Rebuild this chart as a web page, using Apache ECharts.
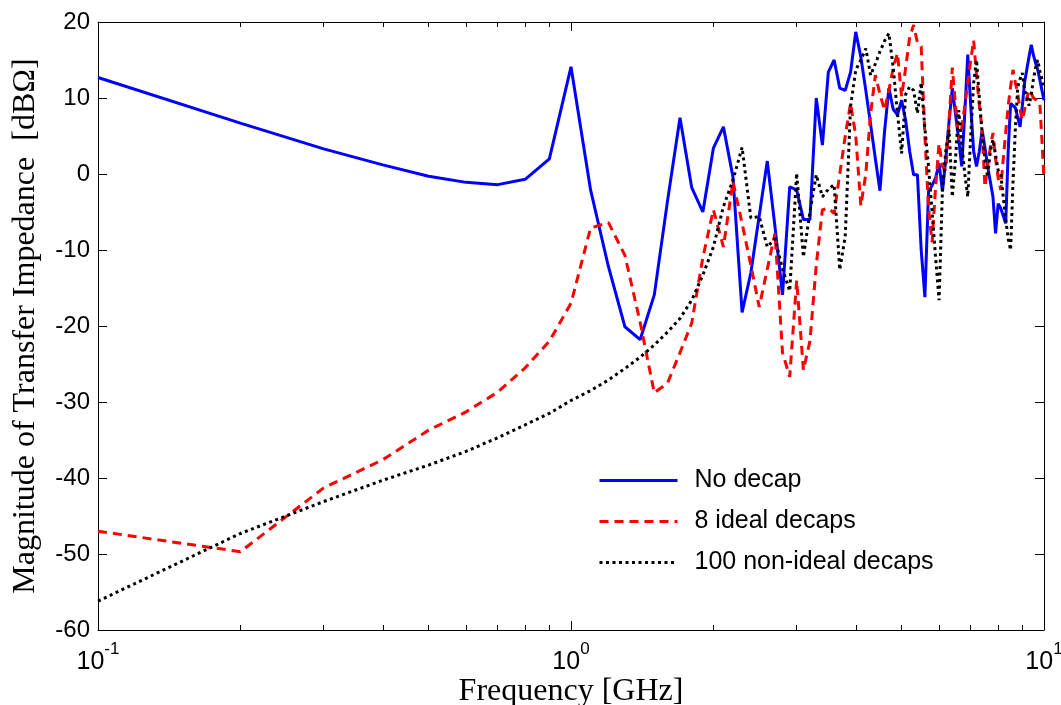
<!DOCTYPE html>
<html>
<head>
<meta charset="utf-8">
<script src="https://cdn.jsdelivr.net/npm/echarts@6/dist/echarts.min.js"></script>
<style>
  html, body { margin: 0; padding: 0; background: #ffffff; }
  #chart { width: 1061px; height: 705px; }
</style>
</head>
<body>
<div id="chart"></div>
<script>
// Frequency sweep points [GHz]
const freqGHz = [
  0.1, 0.2, 0.3, 0.4, 0.5, 0.6, 0.7, 0.8, 0.9, 1.0,
  1.1, 1.2, 1.3, 1.4, 1.5, 1.6, 1.7, 1.8, 1.9, 2.0,
  2.1, 2.2, 2.3, 2.4, 2.5, 2.6, 2.7, 2.8, 2.9, 3.0,
  3.1, 3.2, 3.3, 3.4, 3.5, 3.6, 3.7, 3.8, 3.9, 4.0,
  4.1, 4.2, 4.3, 4.4, 4.5, 4.6, 4.7, 4.8, 4.9, 5.0,
  5.1, 5.2, 5.3, 5.4, 5.5, 5.6, 5.7, 5.8, 5.9, 6.0,
  6.1, 6.2, 6.3, 6.4, 6.5, 6.6, 6.7, 6.8, 6.9, 7.0,
  7.1, 7.2, 7.3, 7.4, 7.5, 7.6, 7.7, 7.8, 7.9, 8.0,
  8.1, 8.2, 8.3, 8.4, 8.5, 8.6, 8.7, 8.8, 8.9, 9.0,
  9.1, 9.2, 9.3, 9.4, 9.5, 9.6, 9.7, 9.8, 9.9, 10.0
];

// Transfer impedance magnitude [dBOhm]
const noDecap = [
  12.7, 6.7, 3.3, 1.2, -0.3, -1.1, -1.4, -0.7, 2.0, 14.1,
  -2.1, -12.2, -20.1, -21.8, -15.9, -3.5, 7.4, -1.8, -5.0, 3.4,
  6.2, -0.4, -18.2, -13.0, -5.5, 1.7, -7.0, -15.9, -1.7, -2.1,
  -6.0, -6.0, 10.0, 3.8, 13.4, 15.0, 11.3, 11.0, 13.4, 18.7,
  15.4, 11.0, 6.5, 2.0, -2.2, 5.5, 11.3, 8.5, 7.8, 9.7,
  7.0, 3.0, -0.1, -0.1, -10.0, -16.2, -2.3, -1.5, -0.5, 1.4,
  -2.3, 2.0, 7.0, 11.3, 7.9, 4.6, 1.0, 8.0, 15.7, 9.0,
  3.0, 1.0, 3.0, 5.8, 3.5, 1.0, -1.0, -3.0, -7.8, -3.9,
  -4.5, -5.5, -6.5, 3.0, 9.3, 9.0, 8.7, 7.4, 6.2, 9.0,
  12.1, 13.8, 15.5, 17.0, 15.6, 14.6, 13.7, 12.4, 11.0, 9.7
];

const idealDecaps8 = [
  -47.0, -49.7, -41.3, -37.6, -33.7, -31.3, -28.7, -25.5, -22.0, -17.0,
  -7.1, -6.4, -10.7, -19.5, -28.8, -27.5, -23.5, -19.6, -11.0, -4.7,
  -9.6, -1.0, -6.5, -12.0, -17.5, -12.5, -7.8, -23.5, -26.7, -14.0,
  -25.8, -22.0, -12.0, -4.7, -4.5, -5.2, 0.0, 5.0, 9.3, 5.0,
  -4.2, 0.0, 8.0, 13.0, 10.5, 8.4, 11.0, 14.0, 15.9, 10.2,
  14.0, 18.0, 19.6, 17.3, 16.8, 5.0, -4.5, -9.0, -1.7, 4.0,
  1.0, 0.5, 7.0, 14.0, 9.0, 4.5, 6.0, 9.0, 12.0, 15.0,
  17.6, 13.0, 9.0, 5.8, -1.7, 1.0, 3.5, 5.4, 2.0, -0.5,
  -2.1, 2.0, 5.5, 9.0, 11.5, 13.7, 12.0, 10.5, 8.5, 7.1,
  8.5, 10.0, 11.0, 10.6, 10.0, 9.8, 9.5, 9.3, 4.5, -0.8
];

const nonIdealDecaps100 = [
  -56.2, -47.3, -43.1, -40.3, -38.3, -36.5, -34.7, -33.0, -31.5, -29.8,
  -28.5, -27.1, -25.6, -24.1, -22.5, -20.8, -19.0, -16.6, -13.3, -9.6,
  -4.3, -0.8, 3.5, -5.8, -5.6, -9.6, -8.5, -12.5, -15.4, 0.1,
  -10.9, -5.0, -0.1, -3.0, -2.0, -1.4, -12.6, -8.2, 8.9, 13.7,
  15.0, 16.5, 13.0, 14.5, 16.1, 17.5, 18.5, 14.0, 8.0, 2.7,
  10.5, 11.5, 11.0, 8.0, 12.0, 6.0, 1.0, -5.0, -11.0, -16.6,
  -2.0, 3.0, 5.8, -3.0, 2.0, 8.4, 4.0, 0.0, -3.0, 5.0,
  12.0, 15.0, 10.0, 5.4, 2.0, -0.4, 3.0, 4.5, 2.5, 0.5,
  0.0, -3.0, -6.0, -8.5, -10.0, -1.0, 6.0, 11.5, 12.5, 13.3,
  11.0, 10.2, 9.0, 10.5, 12.5, 14.0, 15.0, 13.5, 12.5, 11.5
];

const seriesNames = ['No decap', '8 ideal decaps', '100 non-ideal decaps'];

// Tick positions on the frequency axis
const majorFreqTicks = [0.1, 1, 10];
const minorFreqTicks = [0.2, 0.3, 0.4, 0.5, 0.6, 0.7, 0.8, 0.9,
                        2, 3, 4, 5, 6, 7, 8, 9];

const pairs = (vals) => freqGHz.map((f, i) => [f, vals[i]]);

const sansFont = '"Liberation Sans", Arial, Helvetica, sans-serif';
const serifFont = '"Liberation Serif", "Times New Roman", serif';

function freqAxis(position, ticks, tickLen, showLabel, showLine) {
  return {
    type: 'log',
    logBase: 10,
    min: 0.1,
    max: 10,
    position: position,
    axisLine: { show: showLine, onZero: false, lineStyle: { color: '#000', width: 1 } },
    axisTick: {
      show: true,
      inside: true,
      length: tickLen,
      customValues: ticks,
      lineStyle: { color: '#000', width: 1 }
    },
    axisLabel: showLabel ? {
      show: true,
      customValues: majorFreqTicks,
      margin: 8,
      formatter: function (v) {
        const exp = Math.round(Math.log10(v));
        return '{b|10}{e|' + exp + '}';
      },
      rich: {
        b: { fontFamily: sansFont, fontSize: 25, color: '#000', padding: [12, 0, 0, 0] },
        e: { fontFamily: sansFont, fontSize: 17, color: '#000', padding: [0, 0, 14, 0] }
      }
    } : { show: false },
    splitLine: { show: false },
    minorTick: { show: false },
    minorSplitLine: { show: false }
  };
}

function magAxis(position, showLabel) {
  return {
    type: 'value',
    min: -60,
    max: 20,
    interval: 10,
    position: position,
    axisLine: { show: true, onZero: false, lineStyle: { color: '#000', width: 1 } },
    axisTick: { show: true, inside: true, length: 9, lineStyle: { color: '#000', width: 1 } },
    axisLabel: {
      show: showLabel,
      margin: 8,
      fontFamily: sansFont,
      fontSize: 24,
      color: '#000'
    },
    splitLine: { show: false }
  };
}

const xMain = freqAxis('bottom', majorFreqTicks, 9, true, true);
xMain.name = 'Frequency [GHz]';
xMain.nameLocation = 'middle';
xMain.nameGap = 46;
xMain.nameMoveOverlap = false;
xMain.nameTextStyle = { fontFamily: serifFont, fontSize: 32, color: '#000' };

const yMain = magAxis('left', true);
yMain.name = 'Magnitude of Transfer Impedance  [dB\u03A9]';
yMain.nameLocation = 'middle';
yMain.nameGap = 56;
yMain.nameMoveOverlap = false;
yMain.nameTextStyle = { fontFamily: serifFont, fontSize: 32, color: '#000' };

const chart = echarts.init(document.getElementById('chart'), null, { renderer: 'canvas' });

chart.setOption({
  animation: false,
  backgroundColor: '#ffffff',
  grid: { left: 98, right: 17, top: 22, bottom: 75, containLabel: false, outerBoundsMode: 'none' },
  xAxis: [
    xMain,
    freqAxis('bottom', minorFreqTicks, 5, false, false),
    freqAxis('top', majorFreqTicks, 9, false, true),
    freqAxis('top', minorFreqTicks, 5, false, false)
  ],
  yAxis: [
    yMain,
    magAxis('right', false)
  ],
  legend: {
    data: seriesNames,
    orient: 'vertical',
    left: 598,
    top: 468,
    padding: 0,
    itemGap: 16,
    itemWidth: 78,
    itemHeight: 14,
    selectedMode: false,
    itemStyle: { opacity: 0, borderWidth: 0 },
    lineStyle: { width: 3 },
    textStyle: {
      fontFamily: sansFont,
      fontSize: 25,
      lineHeight: 25,
      color: '#000',
      padding: [0, 0, 0, 12]
    }
  },
  series: [
    {
      name: seriesNames[0],
      type: 'line',
      data: pairs(noDecap),
      symbol: 'none',
      color: '#0000ff',
      lineStyle: { color: '#0000ff', width: 3, type: 'solid' },
      z: 3
    },
    {
      name: seriesNames[1],
      type: 'line',
      data: pairs(idealDecaps8),
      symbol: 'none',
      color: '#ff0000',
      lineStyle: { color: '#ff0000', width: 3, type: [9, 6] },
      z: 4
    },
    {
      name: seriesNames[2],
      type: 'line',
      data: pairs(nonIdealDecaps100),
      symbol: 'none',
      color: '#000000',
      lineStyle: { color: '#000000', width: 3, type: [3, 3.5] },
      z: 5
    }
  ]
});
</script>
</body>
</html>
